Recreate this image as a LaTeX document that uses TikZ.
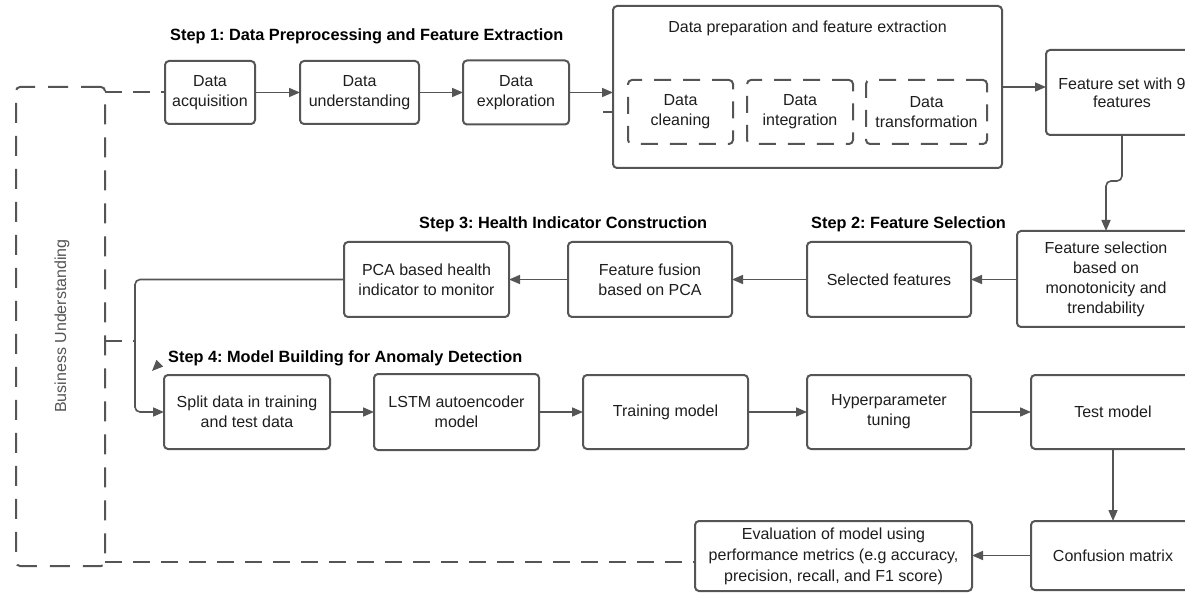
\documentclass[tikz,border=0pt]{standalone}
\usepackage{fontspec}
\setmainfont{Liberation Sans}
\usetikzlibrary{arrows.meta}
\definecolor{linec}{HTML}{555555}
\definecolor{txt}{HTML}{1E1E1E}
\definecolor{bulabel}{HTML}{555555}
\frenchspacing
\begin{document}
\begin{tikzpicture}[x=1pt,y=-1pt,
  box/.style={draw=linec, line width=2pt, rounded corners=4pt, fill=white,
    align=center, inner sep=0pt, outer sep=0pt, text=txt,
    font=\fontsize{16}{20}\selectfont},
  dbox/.style={box, dash pattern=on 17pt off 12pt},
  conn/.style={draw=linec, line width=1.6pt,
    -{Triangle[length=11pt,width=9pt]}},
  dline/.style={draw=linec, line width=2pt, dash pattern=on 17pt off 11pt},
  title/.style={font=\bfseries\fontsize{16.3}{20}\selectfont, text=black,
    inner sep=0pt, anchor=west},
  plain/.style={font=\fontsize{16}{20}\selectfont, text=txt, inner sep=0pt}]

\useasboundingbox (0,0) rectangle (1185,593);
\fill[white] (0,0) rectangle (1185,593);
\clip (0,0) rectangle (1185,593);

% business understanding frame
\node[dbox, dash pattern=on 20pt off 13pt,
      minimum width=89pt, minimum height=479pt] (bu) at (60.5,326.5) {};
\node[plain, text=bulabel, rotate=90] (bulab) at (62,326) {Business Understanding};

% step 1
\node[title] (t1) at (170,36) {Step 1: Data Preprocessing and Feature Extraction};
\node[box, minimum width=90pt, minimum height=63pt] (acq) at (210,92.5) {Data\\acquisition};
\node[box, minimum width=119pt, minimum height=63pt] (und) at (359.5,92.5) {Data\\understanding};
\node[box, minimum width=106pt, minimum height=64pt] (exp) at (516,92.5) {Data\\exploration};

\node[box, minimum width=389pt, minimum height=162pt] (prep) at (807.5,87) {};
\node[plain] (preplab) at (807.5,28) {Data preparation and feature extraction};
\node[dbox, minimum width=105pt, minimum height=64pt] (clean) at (680.5,112) {Data\\cleaning};
\node[dbox, minimum width=106pt, minimum height=64pt] (integ) at (800,112) {Data\\integration};
\node[dbox, minimum width=121pt, minimum height=64pt] (trans) at (926.5,112) {Data\\transformation};

\node[box, minimum width=152pt, minimum height=85pt, font=\fontsize{16}{18}\selectfont] (fset) at (1122,92.5) {Feature set with 9\\features};

% steps 2 and 3
\node[title] (t2) at (811,224) {Step 2: Feature Selection};
\node[title] (t3) at (419,224) {Step 3: Health Indicator Construction};
\node[box, minimum width=178pt, minimum height=96pt] (fsel) at (1106,279) {Feature selection\\based on\\monotonicity and\\trendability};
\node[box, minimum width=164pt, minimum height=75pt] (sel) at (889,279.5) {Selected features};
\node[box, minimum width=164pt, minimum height=75pt] (fus) at (650,279.5) {Feature fusion\\based on PCA};
\node[box, minimum width=165pt, minimum height=75pt] (pca) at (426.5,279.5) {PCA based health\\indicator to monitor};

% step 4
\node[title] (t4) at (168,358) {Step 4: Model Building for Anomaly Detection};
\node[box, minimum width=166pt, minimum height=74pt] (split) at (247,412) {Split data in training\\and test data};
\node[box, minimum width=165pt, minimum height=76pt] (lstm) at (456.5,412) {LSTM autoencoder\\model};
\node[box, minimum width=165pt, minimum height=74pt] (train) at (665.5,412) {Training model};
\node[box, minimum width=164pt, minimum height=74pt] (hyp) at (889,412) {Hyperparameter\\tuning};
\node[box, minimum width=164pt, minimum height=74pt] (test) at (1113,412) {Test model};
\node[box, minimum width=164pt, minimum height=69pt] (conf) at (1113,555.5) {Confusion matrix};
\node[box, minimum width=277pt, minimum height=70pt, font=\fontsize{16}{21}\selectfont] (eval) at (833.5,556) {Evaluation of model using\\performance metrics (e.g accuracy,\\precision, recall, and F1 score)};

% helper points
\coordinate (jn) at (135,341);
\coordinate (vbend) at (135,412);
\coordinate (stub) at (603,112);
\coordinate (dlow) at (105,562);
\coordinate (tipA) at (163,360);
\coordinate (tipB) at (152,371);

% dashed links to the business frame
\draw[dline] (bu.east |- acq.west) -- (acq.west);
\draw[dline] (bu.east |- jn) -- (jn);
\draw[dline] (dlow) -- (eval.west |- dlow);

% step 1 flow
\draw[conn] (acq) -- (und);
\draw[conn] (und) -- (exp);
\draw[conn] (exp.east) -- (prep.west |- exp.east);
\draw[draw=linec, line width=1.6pt] (stub) -- (prep.west |- stub);
\draw[conn] (prep.east) -- (fset.west |- prep.east);
\draw[conn, rounded corners=5pt] (fset.south) -- ++(0,46) -| (fsel.north);

% steps 2 and 3 flow
\draw[conn] (fsel.west |- sel.east) -- (sel.east);
\draw[conn] (sel.west) -- (fus.east);
\draw[conn] (fus.west) -- (pca.east);
\draw[conn, rounded corners=5pt] (pca.west) -| (vbend) -- (split.west);

% step 4 flow
\draw[conn] (split) -- (lstm);
\draw[conn] (lstm) -- (train);
\draw[conn] (train) -- (hyp);
\draw[conn] (hyp) -- (test);
\draw[conn] (test) -- (conf);
\draw[conn] (conf.west) -- (eval.east |- conf.west);
\draw[conn, shorten <=9pt] (tipA) -- (tipB);
\end{tikzpicture}
\end{document}
